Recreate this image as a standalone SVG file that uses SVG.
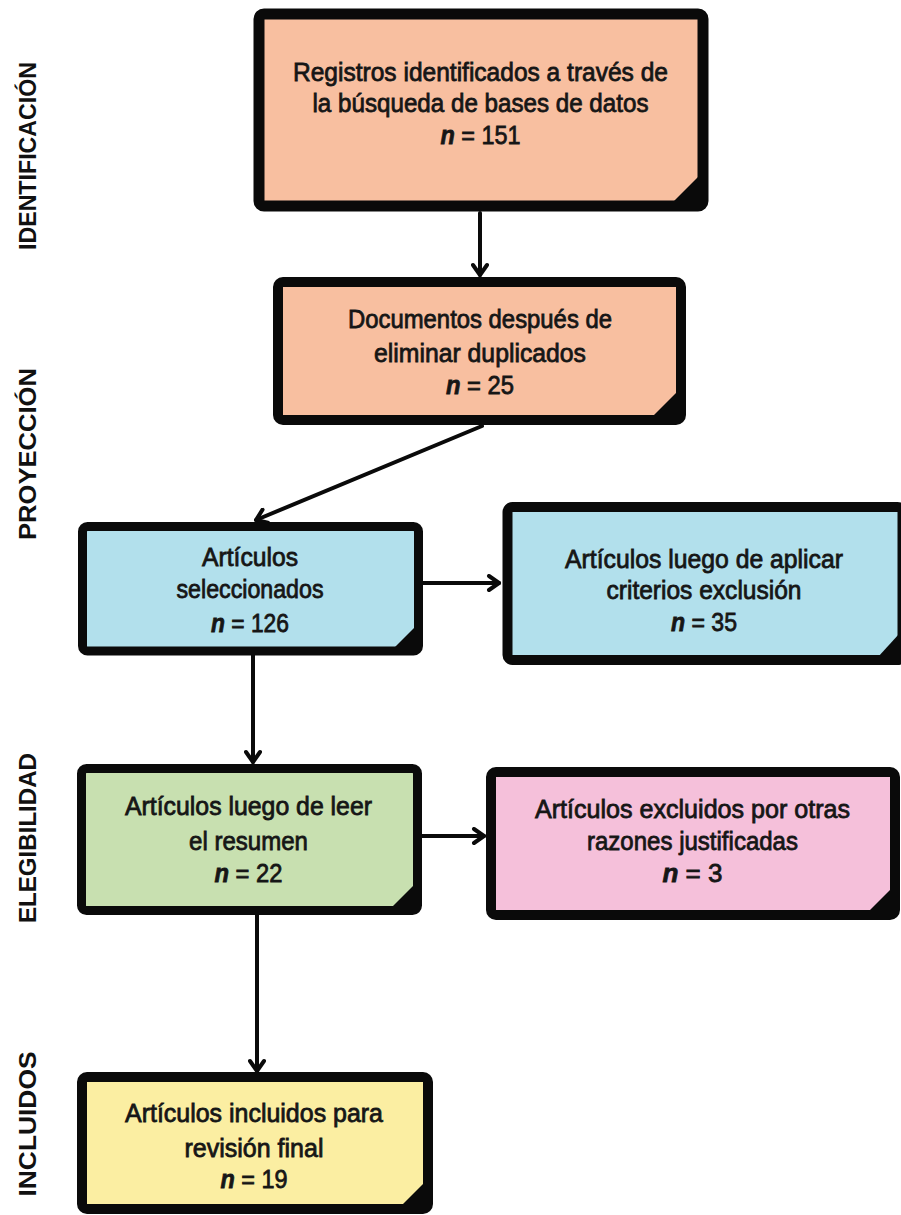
<svg xmlns="http://www.w3.org/2000/svg" width="901" height="1215" viewBox="0 0 901 1215">
<style>
.box{stroke:#0a0a0a;stroke-linejoin:round}
.fold{fill:#0a0a0a}
.t{font-family:"Liberation Sans",Arial,sans-serif;font-size:26px;fill:#161616;text-anchor:middle;stroke:#161616;stroke-width:0.8}
.n{font-style:italic;font-weight:bold}
.side{font-family:"Liberation Sans",Arial,sans-serif;font-size:23px;font-weight:bold;fill:#111;text-anchor:middle}
.edge{fill:none;stroke:#0a0a0a;stroke-width:4;stroke-linecap:round}
.salmon{fill:#F8BFA0}
.blue{fill:#B2E0EC}
.green{fill:#C8E0B0}
.pink{fill:#F5C0DA}
.yellow{fill:#FBEEA2}
</style>
<defs>
<marker id="arr" viewBox="0 0 16 18" markerWidth="16" markerHeight="18" refX="13" refY="9" orient="auto" markerUnits="userSpaceOnUse">
<path d="M3,2 L13,9 L3,16" fill="none" stroke="#0a0a0a" stroke-width="4" stroke-linecap="round" stroke-linejoin="round"/>
</marker>
</defs>

<g id="labels">
<text class="side" transform="translate(36,156) rotate(-90)" textLength="188" lengthAdjust="spacingAndGlyphs">IDENTIFICACIÓN</text>
<text class="side" transform="translate(36,454) rotate(-90)" textLength="172" lengthAdjust="spacingAndGlyphs">PROYECCIÓN</text>
<text class="side" transform="translate(36,838) rotate(-90)" textLength="170" lengthAdjust="spacingAndGlyphs">ELEGIBILIDAD</text>
<text class="side" transform="translate(36,1124) rotate(-90)" textLength="145" lengthAdjust="spacingAndGlyphs">INCLUIDOS</text>
</g>

<g id="connectors">
<path class="edge" d="M480,213 L480,275" marker-end="url(#arr)"/>
<path class="edge" d="M482,426 L256,520" marker-end="url(#arr)"/>
<path class="edge" d="M423,583 L499,583" marker-end="url(#arr)"/>
<path class="edge" d="M253,655 L253,762" marker-end="url(#arr)"/>
<path class="edge" d="M422,836 L484,836" marker-end="url(#arr)"/>
<path class="edge" d="M257,915 L257,1071" marker-end="url(#arr)"/>
</g>

<g id="n1">
<rect class="box salmon" x="259" y="14" width="444" height="192" rx="5" stroke-width="11"/>
<polygon class="fold" points="673,202 699,176 699,202"/>
<text class="t" x="480.5" y="81" textLength="375" lengthAdjust="spacingAndGlyphs">Registros identificados a través de</text>
<text class="t" x="480.5" y="112" textLength="336" lengthAdjust="spacingAndGlyphs">la búsqueda de bases de datos</text>
<text class="t" x="480.5" y="144" textLength="80" lengthAdjust="spacingAndGlyphs"><tspan class="n">n</tspan> = 151</text>
</g>

<g id="n2">
<rect class="box salmon" x="278" y="282" width="403" height="138" rx="5" stroke-width="10"/>
<polygon class="fold" points="652,417 678,391 678,417"/>
<text class="t" x="480" y="328" textLength="264" lengthAdjust="spacingAndGlyphs">Documentos después de</text>
<text class="t" x="480" y="362" textLength="212" lengthAdjust="spacingAndGlyphs">eliminar duplicados</text>
<text class="t" x="480" y="394" textLength="68" lengthAdjust="spacingAndGlyphs"><tspan class="n">n</tspan> = 25</text>
</g>

<g id="n3">
<rect class="box blue" x="82.5" y="526.5" width="336" height="124.5" rx="5" stroke-width="9"/>
<polygon class="fold" points="394,648 416,626 416,648"/>
<text class="t" x="250" y="566" textLength="96" lengthAdjust="spacingAndGlyphs">Artículos</text>
<text class="t" x="250" y="598" textLength="147" lengthAdjust="spacingAndGlyphs">seleccionados</text>
<text class="t" x="250" y="632" textLength="78" lengthAdjust="spacingAndGlyphs"><tspan class="n">n</tspan> = 126</text>
</g>

<g id="n4">
<rect class="box blue" x="507.5" y="507" width="395" height="153" rx="5" stroke-width="10"/>
<polygon class="fold" points="878,657 899,634 899,657"/>
<text class="t" x="704" y="568" textLength="278" lengthAdjust="spacingAndGlyphs">Artículos luego de aplicar</text>
<text class="t" x="704" y="599" textLength="195" lengthAdjust="spacingAndGlyphs">criterios exclusión</text>
<text class="t" x="704" y="631" textLength="66" lengthAdjust="spacingAndGlyphs"><tspan class="n">n</tspan> = 35</text>
</g>

<g id="n5">
<rect class="box green" x="81.5" y="768.5" width="336" height="142" rx="5" stroke-width="9"/>
<polygon class="fold" points="391,908 415,884 415,908"/>
<text class="t" x="248.5" y="815" textLength="247" lengthAdjust="spacingAndGlyphs">Artículos luego de leer</text>
<text class="t" x="248.5" y="850" textLength="119" lengthAdjust="spacingAndGlyphs">el resumen</text>
<text class="t" x="248.5" y="882" textLength="68" lengthAdjust="spacingAndGlyphs"><tspan class="n">n</tspan> = 22</text>
</g>

<g id="n6">
<rect class="box pink" x="491" y="772" width="404" height="143" rx="5" stroke-width="10"/>
<polygon class="fold" points="868,912 892,888 892,912"/>
<text class="t" x="692.5" y="818" textLength="315" lengthAdjust="spacingAndGlyphs">Artículos excluidos por otras</text>
<text class="t" x="692.5" y="850" textLength="211" lengthAdjust="spacingAndGlyphs">razones justificadas</text>
<text class="t" x="692.5" y="882" textLength="60" lengthAdjust="spacingAndGlyphs"><tspan class="n">n</tspan> = 3</text>
</g>

<g id="n7">
<rect class="box yellow" x="82" y="1077" width="346" height="132" rx="5" stroke-width="10"/>
<polygon class="fold" points="401,1206 425,1182 425,1206"/>
<text class="t" x="254" y="1122" textLength="258" lengthAdjust="spacingAndGlyphs">Artículos incluidos para</text>
<text class="t" x="254" y="1157" textLength="139" lengthAdjust="spacingAndGlyphs">revisión final</text>
<text class="t" x="254" y="1188" textLength="67" lengthAdjust="spacingAndGlyphs"><tspan class="n">n</tspan> = 19</text>
</g>
</svg>
